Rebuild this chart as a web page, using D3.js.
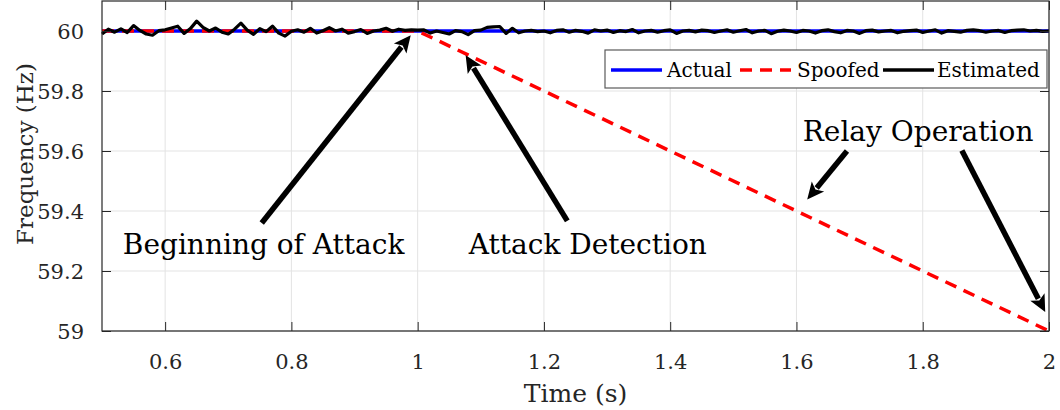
<!DOCTYPE html>
<html>
<head>
<meta charset="utf-8">
<script src="https://cdnjs.cloudflare.com/ajax/libs/d3/7.8.5/d3.min.js"></script>
<style>
  body { margin: 0; background: #fff; }
  #chart svg, #chart svg text { font-family: "DejaVu Serif", "Liberation Serif", "Noto Serif", "Times New Roman", Times, serif; }
</style>
</head>
<body>
<div id="chart"></div>
<script>
// Data
var xTicks = [0.6, 0.8, 1, 1.2, 1.4, 1.6, 1.8, 2];
var yTicks = [59, 59.2, 59.4, 59.6, 59.8, 60];

// actual frequency (flat)
var actualT = [0.5, 2.0];
var actualF = [60, 60];

// spoofed frequency: flat until attack, then ramps down
var spoofT = [0.5, 1.0, 2.0];
var spoofF = [60, 60, 59.0];

// estimated frequency, sampled every 0.01 s starting at 0.5 s
var estStart = 0.5, estStep = 0.01;
var estF = [
  59.990, 60.006, 59.996, 60.007, 59.995, 60.018, 60.002, 59.990, 59.986, 60.001,
  60.004, 60.010, 60.016, 59.992, 60.008, 60.033, 60.012, 60.000, 60.010, 59.996,
  59.990, 60.006, 60.026, 60.003, 59.989, 60.008, 59.998, 60.016, 59.993, 59.983,
  59.999, 60.004, 59.996, 60.009, 59.993, 60.001, 60.011, 60.000, 60.006, 59.993,
  59.998, 60.005, 59.992, 60.000, 60.003, 60.009, 59.999, 60.006, 60.002, 60.004,
  60.003, 60.004, 59.993, 60.000, 59.995, 59.990, 60.001, 59.998, 59.988, 60.001,
  60.003, 60.012, 60.014, 60.015, 59.992, 60.009, 59.994, 60.000, 60.002, 59.998,
  60.000, 59.994, 60.002, 60.004, 59.996, 60.002, 59.999, 59.993, 60.004, 60.000,
  60.003, 59.995, 60.001, 59.998, 60.005, 59.994, 60.000, 60.002, 59.996, 60.001,
  60.004, 59.992, 60.000, 60.002, 59.997, 60.003, 60.001, 59.995, 60.000, 60.004,
  59.996, 60.001, 60.005, 59.994, 60.000, 60.002, 59.991, 59.999, 60.003, 60.000,
  59.995, 60.002, 60.000, 59.993, 60.001, 60.004, 59.998, 59.994, 60.002, 60.000,
  59.992, 60.001, 60.003, 59.997, 60.000, 60.002, 59.994, 59.999, 60.001, 60.003,
  59.995, 60.000, 60.004, 59.993, 60.001, 59.999, 59.996, 60.002, 60.004, 60.001,
  59.996, 60.000, 60.002, 59.995, 60.001, 60.003, 60.004, 60.000, 60.002, 59.999,
  60.000
];

// annotations: text and arrows in data coordinates
var labels = [
  { text: "Beginning of Attack", t: 0.533, f: 59.258 },
  { text: "Attack Detection", t: 1.081, f: 59.258 },
  { text: "Relay Operation", t: 1.610, f: 59.634 }
];
var arrows = [
  { t0: 0.753, f0: 59.360, t1: 0.989, f1: 59.986 },
  { t0: 1.237, f0: 59.367, t1: 1.076, f1: 59.919 },
  { t0: 1.680, f0: 59.600, t1: 1.617, f1: 59.438 },
  { t0: 1.862, f0: 59.602, t1: 1.994, f1: 59.063 }
];

var svgWidth = 1060;
var svgHeight = 410;

var margin = { top: 1, right: 11, bottom: 79, left: 102 };
var width = svgWidth - margin.left - margin.right;
var height = svgHeight - margin.top - margin.bottom;

var svg = d3.select("#chart")
    .append("svg")
    .attr("width", svgWidth)
    .attr("height", svgHeight);

var chartGroup = svg.append("g")
    .attr("transform", `translate(${margin.left}, ${margin.top})`);

var xScale = d3.scaleLinear().domain([0.5, 2]).range([0, width]);
var yScale = d3.scaleLinear().domain([59, 60.1]).range([height, 0]);

// grid
chartGroup.append("g")
    .selectAll("line")
    .data(xTicks)
    .enter()
    .append("line")
    .attr("x1", d => xScale(d)).attr("x2", d => xScale(d))
    .attr("y1", 0).attr("y2", height)
    .attr("stroke", "#e3e3e3");

chartGroup.append("g")
    .selectAll("line")
    .data(yTicks)
    .enter()
    .append("line")
    .attr("x1", 0).attr("x2", width)
    .attr("y1", d => yScale(d)).attr("y2", d => yScale(d))
    .attr("stroke", "#e3e3e3");

// lines
var line = d3.line().x(d => xScale(d[0])).y(d => yScale(d[1]));

chartGroup.append("path")
    .datum(actualT.map((t, i) => [t, actualF[i]]))
    .attr("d", line)
    .attr("fill", "none")
    .attr("stroke", "#0000ff")
    .attr("stroke-width", 3.5);

chartGroup.append("path")
    .datum(spoofT.map((t, i) => [t, spoofF[i]]))
    .attr("d", line)
    .attr("fill", "none")
    .attr("stroke", "#ff0000")
    .attr("stroke-width", 3.5)
    .attr("stroke-dasharray", "12,8");

chartGroup.append("path")
    .datum(estF.map((f, i) => [estStart + i * estStep, f]))
    .attr("d", line)
    .attr("fill", "none")
    .attr("stroke", "#000")
    .attr("stroke-width", 3.2)
    .attr("stroke-linejoin", "round");

// axes box with inward ticks (top/right mirrored)
var tickLen = 9;
var xAxis = d3.axisBottom(xScale).tickValues(xTicks).tickSize(-tickLen).tickPadding(tickLen + 14)
    .tickFormat(d3.format("~g"));
var yAxis = d3.axisLeft(yScale).tickValues(yTicks).tickSize(-tickLen).tickPadding(tickLen + 9)
    .tickFormat(d3.format("~g"));

var gx = chartGroup.append("g").attr("transform", `translate(0, ${height})`).call(xAxis);
var gy = chartGroup.append("g").call(yAxis);
chartGroup.append("g").call(d3.axisTop(xScale).tickValues(xTicks).tickSize(-tickLen).tickFormat(""));
chartGroup.append("g").attr("transform", `translate(${width}, 0)`)
    .call(d3.axisRight(yScale).tickValues(yTicks).tickSize(-tickLen).tickFormat(""));

chartGroup.selectAll("g[font-family]").attr("font-family", null);
chartGroup.selectAll(".domain").remove();
chartGroup.selectAll(".tick line").attr("stroke", "#262626");
gx.selectAll("text").attr("font-size", "21px").attr("fill", "#262626");
gy.selectAll("text").attr("font-size", "21px").attr("fill", "#262626").attr("dy", "0.36em");

chartGroup.append("rect")
    .attr("x", 0).attr("y", 0)
    .attr("width", width).attr("height", height)
    .attr("fill", "none")
    .attr("stroke", "#262626")
    .attr("stroke-width", 1.2);

// axis titles
chartGroup.append("text")
    .attr("x", width / 2)
    .attr("y", height + 71)
    .attr("text-anchor", "middle")
    .attr("font-size", "25px")
    .attr("fill", "#262626")
    .text("Time (s)");

chartGroup.append("text")
    .attr("transform", `translate(${-margin.left + 33}, ${yScale(59.59)}) rotate(-90)`)
    .attr("text-anchor", "middle")
    .attr("font-size", "23px")
    .attr("fill", "#262626")
    .text("Frequency (Hz)");

// legend
var legend = chartGroup.append("g").attr("transform", `translate(${605 - margin.left}, ${50 - margin.top})`);
legend.append("rect")
    .attr("width", 442).attr("height", 38)
    .attr("fill", "#fff")
    .attr("stroke", "#5a5a5a")
    .attr("stroke-width", 1.2);

var legendItems = [
  { name: "Actual", color: "#0000ff", dash: null, x: 6, tx: 62 },
  { name: "Spoofed", color: "#ff0000", dash: "12,8", x: 135, tx: 192 },
  { name: "Estimated", color: "#000", dash: null, x: 278, tx: 332 }
];
legendItems.forEach(function(item) {
  legend.append("line")
    .attr("x1", item.x).attr("x2", item.x + 51)
    .attr("y1", 20).attr("y2", 20)
    .attr("stroke", item.color)
    .attr("stroke-width", 3.5)
    .attr("stroke-dasharray", item.dash);
  legend.append("text")
    .attr("x", item.tx).attr("y", 27)
    .attr("font-size", "20px")
    .attr("fill", "#000")
    .text(item.name);
});

// annotations
chartGroup.append("g")
    .selectAll("text")
    .data(labels)
    .enter()
    .append("text")
    .attr("x", d => xScale(d.t))
    .attr("y", d => yScale(d.f))
    .attr("font-size", "28px")
    .attr("fill", "#000")
    .text(d => d.text);

var headLen = 17, headHalf = 8;
arrows.forEach(function(a) {
  var x0 = xScale(a.t0), y0 = yScale(a.f0);
  var x1 = xScale(a.t1), y1 = yScale(a.f1);
  var dx = x1 - x0, dy = y1 - y0;
  var len = Math.sqrt(dx * dx + dy * dy);
  var ux = dx / len, uy = dy / len;
  var bx = x1 - ux * headLen, by = y1 - uy * headLen;
  chartGroup.append("line")
    .attr("x1", x0).attr("y1", y0)
    .attr("x2", bx + ux * 2).attr("y2", by + uy * 2)
    .attr("stroke", "#000")
    .attr("stroke-width", 5.5);
  chartGroup.append("polygon")
    .attr("points", [
      [x1, y1],
      [bx - uy * headHalf, by + ux * headHalf],
      [bx + ux * 4, by + uy * 4],
      [bx + uy * headHalf, by - ux * headHalf]
    ].map(p => p.join(",")).join(" "))
    .attr("fill", "#000");
});
</script>
</body>
</html>
